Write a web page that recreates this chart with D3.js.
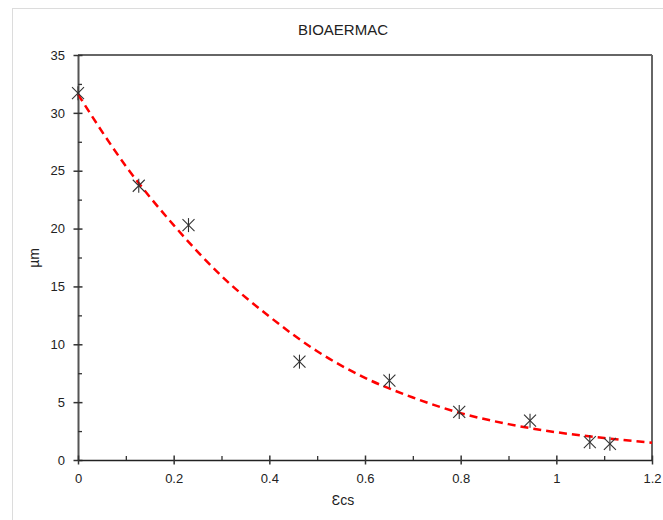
<!DOCTYPE html>
<html>
<head>
<meta charset="utf-8">
<script src="https://cdn.jsdelivr.net/npm/d3@7"></script>
<style>
  body { margin: 0; background: #fff; }
  svg text { font-family: "Liberation Sans", Arial, sans-serif; fill: #222; }
</style>
</head>
<body>
<svg id="chart" width="663" height="520"></svg>
<script>
// measured points (ecs vs µm)
const ecsValues = [0, 0.127, 0.231, 0.463, 0.651, 0.797, 0.945, 1.07, 1.112];
const umValues = [31.7, 23.7, 20.3, 8.5, 6.85, 4.15, 3.4, 1.55, 1.4];

// trend line, every 0.1
const trendX = [0, 0.1, 0.2, 0.3, 0.4, 0.5, 0.6, 0.7, 0.8, 0.9, 1.0, 1.1, 1.2];
const trendY = [31.6, 25.4, 20.3, 15.9, 12.4, 9.4, 7.1, 5.4, 4.05, 3.1, 2.4, 1.9, 1.5];

// ticks
const xTicks = [0, 0.2, 0.4, 0.6, 0.8, 1, 1.2];
const xMinor = [0.1, 0.3, 0.5, 0.7, 0.9, 1.1];
const yTicks = [0, 5, 10, 15, 20, 25, 30, 35];
const yMinor = [2.5, 7.5, 12.5, 17.5, 22.5, 27.5, 32.5];

const svg = d3.select("#chart");
const mLeft = 78, mRight = 652, mTop = 55, mBottom = 460;

// light frame around the figure
svg.append("rect")
  .attr("x", 12.5).attr("y", 8.5)
  .attr("width", 700).attr("height", 600)
  .attr("fill", "none")
  .attr("stroke", "#dcdcdc");

const x = d3.scaleLinear().domain([0, 1.2]).range([mLeft, mRight]);
const y = d3.scaleLinear().domain([0, 35]).range([mBottom, mTop]);

// box: top and right edges
svg.append("line")
  .attr("x1", mLeft).attr("x2", mRight).attr("y1", mTop).attr("y2", mTop)
  .attr("stroke", "#333").attr("stroke-width", 1.3);
svg.append("line")
  .attr("x1", mRight).attr("x2", mRight).attr("y1", mTop).attr("y2", mBottom)
  .attr("stroke", "#666").attr("stroke-width", 2);

// y axis
const yAxis = svg.append("g")
  .attr("transform", `translate(${mLeft},0)`)
  .call(d3.axisLeft(y).tickValues(yTicks).tickSize(0).tickPadding(13));
yAxis.select(".domain").attr("stroke", "#555").attr("stroke-width", 2);
yAxis.selectAll(".tick line")
  .attr("x1", -4.5).attr("x2", 4.5)
  .attr("stroke", "#333").attr("stroke-width", 1.5);
yAxis.selectAll(".tick text").attr("font-size", 13);

const yMin = svg.append("g")
  .attr("transform", `translate(${mLeft},0)`)
  .call(d3.axisRight(y).tickValues(yMinor).tickSize(4).tickFormat(""));
yMin.select(".domain").remove();
yMin.selectAll(".tick line").attr("stroke", "#333").attr("stroke-width", 1.3);

// x axis
const xAxis = svg.append("g")
  .attr("transform", `translate(0,${mBottom})`)
  .call(d3.axisBottom(x).tickValues(xTicks).tickSize(0).tickPadding(14)
    .tickFormat(d => d3.format("~g")(d)));
xAxis.select(".domain").attr("stroke", "#222").attr("stroke-width", 1.6);
xAxis.selectAll(".tick line")
  .attr("y1", -4.5).attr("y2", 4.5)
  .attr("stroke", "#333").attr("stroke-width", 1.5);
xAxis.selectAll(".tick text").attr("font-size", 13);

const xMin = svg.append("g")
  .attr("transform", `translate(0,${mBottom})`)
  .call(d3.axisTop(x).tickValues(xMinor).tickSize(4).tickFormat(""));
xMin.select(".domain").remove();
xMin.selectAll(".tick line").attr("stroke", "#333").attr("stroke-width", 1.3);

// trend line
const trend = trendX.map((v, i) => [v, trendY[i]]);
svg.append("path")
  .datum(trend)
  .attr("fill", "none")
  .attr("stroke", "#ff0000")
  .attr("stroke-width", 2.5)
  .attr("stroke-dasharray", "8,5")
  .attr("d", d3.line().x(d => x(d[0])).y(d => y(d[1])).curve(d3.curveMonotoneX));

// asterisk markers
const pts = ecsValues.map((v, i) => ({ x: v, y: umValues[i] }));
const mk = svg.append("g").selectAll("g")
  .data(pts)
  .enter()
  .append("g")
  .attr("transform", d => `translate(${x(d.x)},${y(d.y)})`)
  .attr("stroke", "#333")
  .attr("stroke-width", 1.1);
mk.append("line").attr("x1", -6).attr("y1", -6).attr("x2", 6).attr("y2", 6);
mk.append("line").attr("x1", -6).attr("y1", 6).attr("x2", 6).attr("y2", -6);
mk.append("line").attr("x1", 0).attr("y1", -7).attr("x2", 0).attr("y2", 7);

// titles
svg.append("text")
  .attr("x", 343).attr("y", 35)
  .attr("text-anchor", "middle")
  .attr("font-size", 15)
  .text("BIOAERMAC");

svg.append("text")
  .attr("x", 343).attr("y", 505)
  .attr("text-anchor", "middle")
  .attr("font-size", 14)
  .text("Ɛcs");

svg.append("text")
  .attr("transform", "translate(39,258) rotate(-90)")
  .attr("text-anchor", "middle")
  .attr("font-size", 14)
  .text("µm");
</script>
</body>
</html>
